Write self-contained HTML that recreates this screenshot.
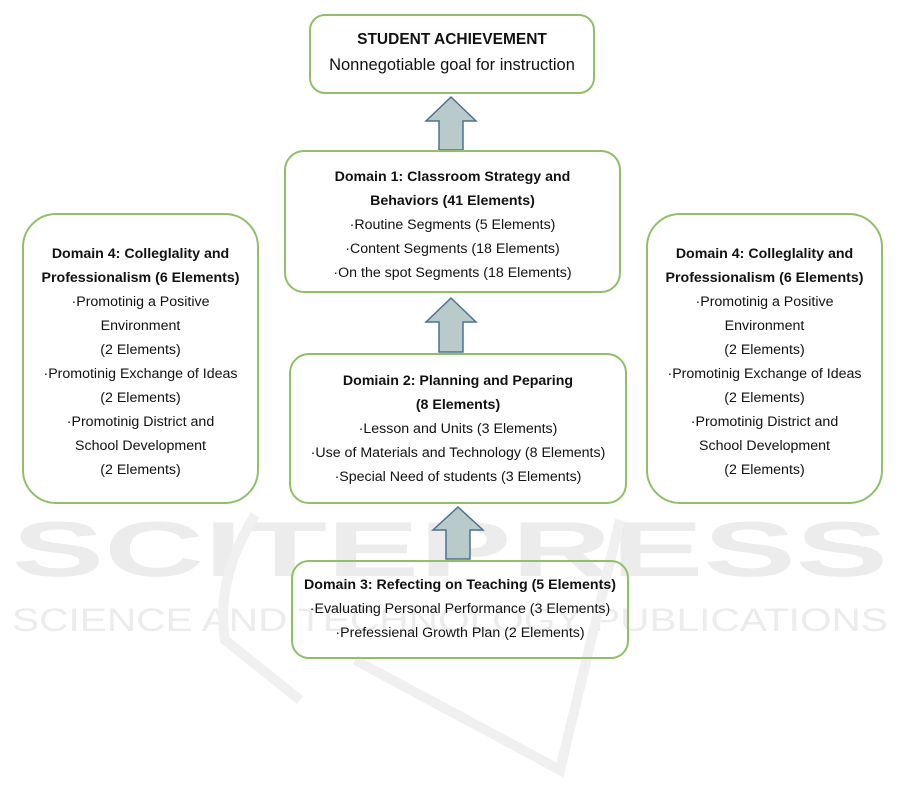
<!DOCTYPE html>
<html><head><meta charset="utf-8">
<style>
html,body{margin:0;padding:0;background:#fff;}
body{width:901px;height:806px;position:relative;overflow:hidden;font-family:"Liberation Sans",sans-serif;color:#111;}
.wm{position:absolute;left:0;top:0;}
.box{position:absolute;border:2px solid #8fc068;border-radius:16px;box-sizing:border-box;background:transparent;}
.t{position:absolute;left:0;right:0;text-align:center;font-size:14.2px;line-height:24px;white-space:nowrap;}
b{font-weight:bold;}
</style></head><body>
<svg class="wm" width="901" height="806">
  <text x="12" y="576" font-family="Liberation Sans" font-weight="bold" font-size="78" fill="#ececec" textLength="876" lengthAdjust="spacingAndGlyphs">SCITEPRESS</text>
  <text x="12" y="631" font-family="Liberation Sans" font-size="32" fill="#ececec" textLength="876" lengthAdjust="spacingAndGlyphs">SCIENCE AND TECHNOLOGY PUBLICATIONS</text>
  <path d="M255,515 Q215,580 225,640 L300,700" stroke="#f0f0f0" stroke-width="10" fill="none"/>
  <path d="M355,660 L560,770 L620,520" stroke="#f0f0f0" stroke-width="10" fill="none"/>
  <g fill="#b9caca" stroke="#4d7190" stroke-width="1.5">
    <path d="M451,97 L476,121 L463,121 L463,150 L439,150 L439,121 L426,121 Z"/>
    <path d="M451,298 L476,322 L463,322 L463,352 L439,352 L439,322 L426,322 Z"/>
    <path d="M458,507 L483,530 L470,530 L470,559 L446,559 L446,530 L433,530 Z"/>
  </g>
</svg>

<div class="box" style="left:309px;top:14px;width:286px;height:80px;">
  <div class="t" style="top:12px;font-size:15.5px;"><b>STUDENT ACHIEVEMENT</b></div>
  <div class="t" style="top:37px;font-size:16.5px;">Nonnegotiable goal for instruction</div>
</div>

<div class="box" style="left:284px;top:150px;width:337px;height:143px;border-radius:20px;">
  <div class="t" style="top:13px;"><b>Domain 1: Classroom Strategy and</b></div>
  <div class="t" style="top:37px;"><b>Behaviors (41 Elements)</b></div>
  <div class="t" style="top:61px;">·Routine Segments (5 Elements)</div>
  <div class="t" style="top:85px;">·Content Segments (18 Elements)</div>
  <div class="t" style="top:109px;">·On the spot Segments (18 Elements)</div>
</div>

<div class="box" style="left:22px;top:213px;width:237px;height:291px;border-radius:34px;">
  <div class="t" style="top:27px;"><b>Domain 4: Colleglality and</b></div>
  <div class="t" style="top:51px;"><b>Professionalism (6 Elements)</b></div>
  <div class="t" style="top:75px;">·Promotinig a Positive</div>
  <div class="t" style="top:99px;">Environment</div>
  <div class="t" style="top:123px;">(2 Elements)</div>
  <div class="t" style="top:147px;">·Promotinig Exchange of Ideas</div>
  <div class="t" style="top:171px;">(2 Elements)</div>
  <div class="t" style="top:195px;">·Promotinig District and</div>
  <div class="t" style="top:219px;">School Development</div>
  <div class="t" style="top:243px;">(2 Elements)</div>
</div>

<div class="box" style="left:646px;top:213px;width:237px;height:291px;border-radius:34px;">
  <div class="t" style="top:27px;"><b>Domain 4: Colleglality and</b></div>
  <div class="t" style="top:51px;"><b>Professionalism (6 Elements)</b></div>
  <div class="t" style="top:75px;">·Promotinig a Positive</div>
  <div class="t" style="top:99px;">Environment</div>
  <div class="t" style="top:123px;">(2 Elements)</div>
  <div class="t" style="top:147px;">·Promotinig Exchange of Ideas</div>
  <div class="t" style="top:171px;">(2 Elements)</div>
  <div class="t" style="top:195px;">·Promotinig District and</div>
  <div class="t" style="top:219px;">School Development</div>
  <div class="t" style="top:243px;">(2 Elements)</div>
</div>

<div class="box" style="left:289px;top:353px;width:338px;height:151px;border-radius:20px;">
  <div class="t" style="top:14px;"><b>Domiain 2: Planning and Peparing</b></div>
  <div class="t" style="top:38px;"><b>(8 Elements)</b></div>
  <div class="t" style="top:62px;">·Lesson and Units (3 Elements)</div>
  <div class="t" style="top:86px;">·Use of Materials and Technology (8 Elements)</div>
  <div class="t" style="top:110px;">·Special Need of students (3 Elements)</div>
</div>

<div class="box" style="left:291px;top:560px;width:338px;height:99px;border-radius:18px;">
  <div class="t" style="top:11px;"><b>Domain 3: Refecting on Teaching (5 Elements)</b></div>
  <div class="t" style="top:35px;">·Evaluating Personal Performance (3 Elements)</div>
  <div class="t" style="top:59px;">·Prefessienal Growth Plan (2 Elements)</div>
</div>
</body></html>
